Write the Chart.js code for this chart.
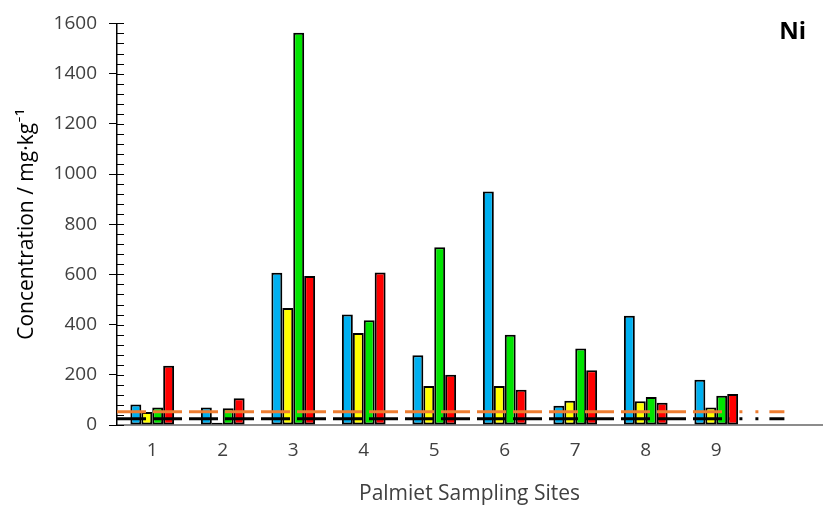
<!DOCTYPE html>
<html>
<head>
<meta charset="utf-8">
<script src="https://cdn.jsdelivr.net/npm/chart.js@4.4.0/dist/chart.umd.min.js"></script>
<style>
  body { margin: 0; background: #fff; }
</style>
</head>
<body>
<canvas id="niChart" width="825" height="512"></canvas>
<script>
// Sampling sites (last slot left empty, like the original axis)
const sites = ['1', '2', '3', '4', '5', '6', '7', '8', '9', ''];

// Ni concentrations (mg/kg)
const blueVals   = [82, 70, 607, 440, 278, 930, 77, 435, 180];
const yellowVals = [52, 9, 466, 367, 155, 155, 97, 95, 70];
const greenVals  = [70, 67, 1563, 417, 708, 360, 305, 112, 117];
const redVals    = [236, 107, 594, 608, 200, 140, 218, 89, 124];

// guideline levels
const orangeLevel = 53;
const blackLevel = 25;

const yTicks = [0, 200, 400, 600, 800, 1000, 1200, 1400, 1600];

const fontFam = '"Open Sans", Lato, sans-serif';

// minor ticks, guide lines and the "Ni" label
const extrasPlugin = {
    id: 'extras',
    afterDatasetsDraw(chart) {
        const ctx = chart.ctx;
        const y = chart.scales.y;
        const area = chart.chartArea;

        // guide lines on top of bars
        function guide(level, color) {
            const py = y.getPixelForValue(level);
            const split = area.left + (area.right - area.left) * 0.88;
            ctx.save();
            ctx.strokeStyle = color;
            ctx.lineWidth = 3;
            ctx.setLineDash([29, 7]);
            ctx.beginPath();
            ctx.moveTo(area.left, py);
            ctx.lineTo(split - 8, py);
            ctx.stroke();
            ctx.setLineDash([3, 13, 3, 11, 15, 300]);
            ctx.beginPath();
            ctx.moveTo(split + 2, py);
            ctx.lineTo(split + 47, py);
            ctx.stroke();
            ctx.restore();
        }
        guide(orangeLevel, '#ED7D31');
        guide(blackLevel, '#000000');
    },
    afterDraw(chart) {
        const ctx = chart.ctx;
        const y = chart.scales.y;
        const area = chart.chartArea;
        ctx.save();
        ctx.strokeStyle = '#000';
        ctx.lineWidth = 1;
        for (let v = 0; v <= 1600; v += 40) {
            const py = Math.round(y.getPixelForValue(v)) + 0.5;
            ctx.beginPath();
            ctx.moveTo(area.left, py);
            ctx.lineTo(area.left + 7, py);
            ctx.stroke();
        }
        ctx.fillStyle = '#000';
        ctx.font = 'bold 24px ' + fontFam;
        ctx.textAlign = 'right';
        ctx.textBaseline = 'middle';
        ctx.fillText('Ni', area.right - 16, area.top + 9);
        ctx.restore();
    }
};

function barSet(label, values, color) {
    return {
        label: label,
        data: values,
        backgroundColor: color,
        borderColor: '#000',
        borderWidth: 2,
        borderSkipped: false
    };
}

new Chart(document.getElementById('niChart'), {
    type: 'bar',
    data: {
        labels: sites,
        datasets: [
            barSet('A', blueVals, '#00B0F0'),
            barSet('B', yellowVals, '#FFFF00'),
            barSet('C', greenVals, '#00E400'),
            barSet('D', redVals, '#FF0000')
        ]
    },
    options: {
        responsive: false,
        animation: false,
        devicePixelRatio: 1,
        layout: { padding: { top: 20, right: 3, bottom: 0, left: 0 } },
        datasets: {
            bar: { categoryPercentage: 0.62, barPercentage: 1.0 }
        },
        scales: {
            x: {
                grid: { drawOnChartArea: false, drawTicks: false },
                border: { display: true, color: '#8c8c8c', width: 2 },
                ticks: {
                    color: '#404040',
                    font: { family: fontFam, size: 19 },
                    padding: 14
                },
                title: {
                    display: true,
                    text: 'Palmiet Sampling Sites',
                    color: '#404040',
                    font: { family: fontFam, size: 21 },
                    padding: { top: 0, bottom: 5 }
                },
                afterFit(scale) { scale.height = 87; }
            },
            y: {
                min: 0,
                max: 1600,
                afterBuildTicks(scale) {
                    scale.ticks = yTicks.map(v => ({ value: v }));
                },
                grid: { drawOnChartArea: false, drawTicks: true, tickLength: 8, color: '#000' },
                border: { display: true, color: '#000', width: 1.5 },
                ticks: {
                    color: '#404040',
                    font: { family: fontFam, size: 19 },
                    padding: 12,
                    callback: v => String(v)
                },
                title: {
                    display: true,
                    text: 'Concentration / mg·kg⁻¹',
                    color: '#000',
                    font: { family: fontFam, size: 21 },
                    padding: { top: 14, bottom: 0 }
                },
                afterFit(scale) { scale.width = 117; }
            }
        },
        plugins: {
            legend: { display: false },
            tooltip: { enabled: false }
        }
    },
    plugins: [extrasPlugin]
});
</script>
</body>
</html>
